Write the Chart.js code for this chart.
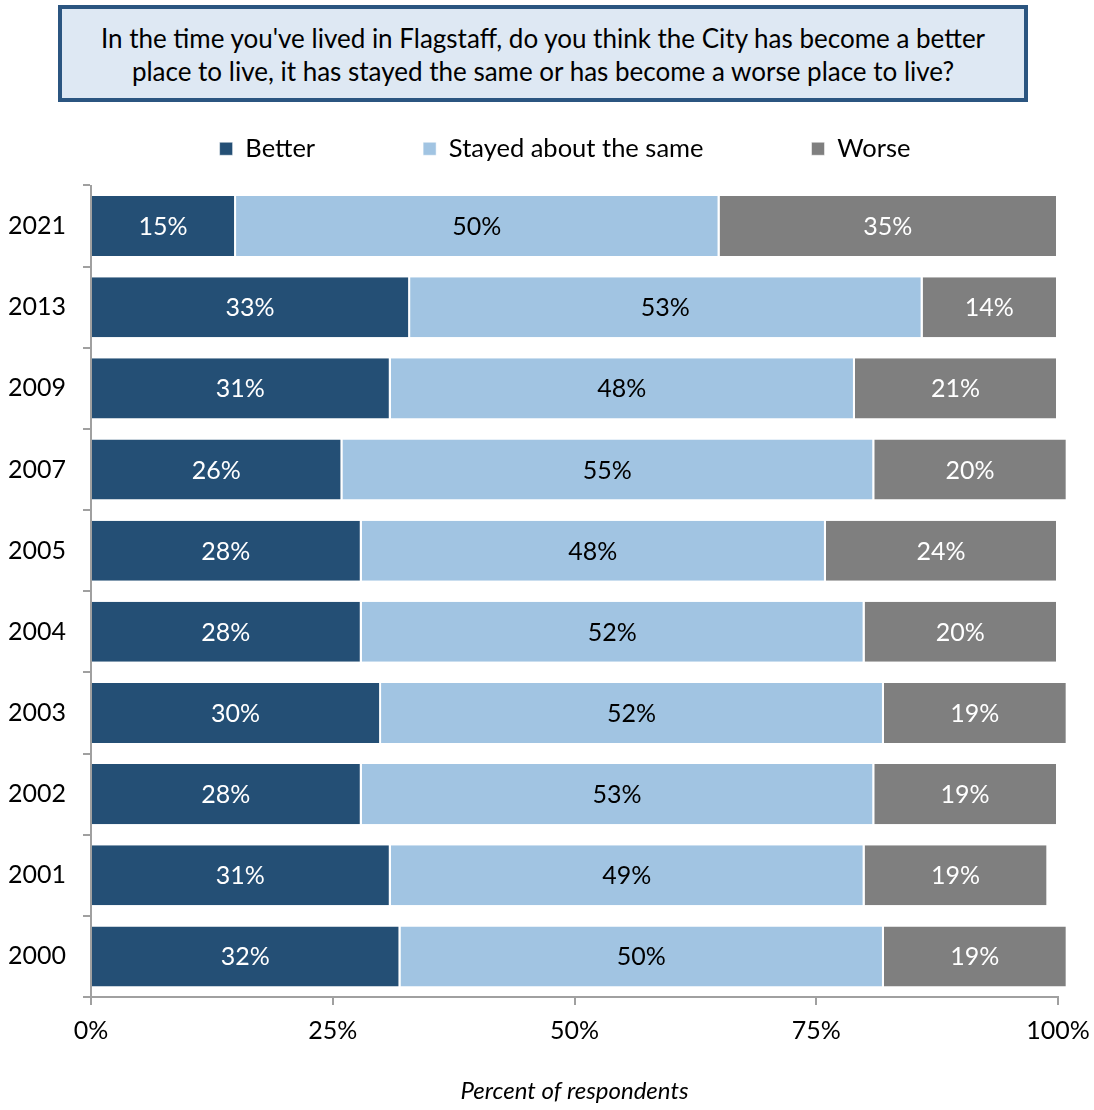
<!DOCTYPE html>
<html>
<head>
<meta charset="utf-8">
<script src="https://cdn.jsdelivr.net/npm/chart.js@4"></script>
<style>
  html, body { margin: 0; padding: 0; background: #fff; }
  #wrap { position: relative; width: 1094px; height: 1110px; }
  #q {
    position: absolute; left: 58px; top: 5px; width: 962px; height: 89px;
    border: 4px solid #2B5580; background: #DEE8F3;
    font-family: Lato, "Open Sans", sans-serif; font-size: 26px; line-height: 33px;
    color: #000; text-align: center; box-sizing: content-box;
    display: flex; align-items: center; justify-content: center;
  }
  #q span { display: block; padding-top: 2px; }
  canvas { position: absolute; left: 0; top: 0; }
</style>
</head>
<body>
<div id="wrap">
  <canvas id="c" width="1094" height="1110"></canvas>
  <div id="q"><span>In the time you've lived in Flagstaff, do you think the City has become a better<br>place to live, it has stayed the same or has become a worse place to live?</span></div>
</div>
<script>
const years = ["2021","2013","2009","2007","2005","2004","2003","2002","2001","2000"];
const better = [15,33,31,26,28,28,30,28,31,32];
const same   = [50,53,48,55,48,52,52,53,49,50];
const worse  = [35,14,21,20,24,20,19,19,19,19];
const seriesNames = ["Better","Stayed about the same","Worse"];
const xTicks = [0,25,50,75,100];
const axisTitle = "Percent of respondents";

const FONT = 'Lato, "Open Sans", sans-serif';
const colors = ["#244F75", "#A1C4E2", "#7F7F7F"];
const labelColors = ["#FFFFFF", "#000000", "#FFFFFF"];

const valueLabels = {
  id: 'valueLabels',
  afterDatasetsDraw(chart) {
    const ctx = chart.ctx;
    ctx.save();
    ctx.font = '25px ' + FONT;
    ctx.textAlign = 'center';
    ctx.textBaseline = 'middle';
    chart.data.datasets.forEach((ds, i) => {
      const meta = chart.getDatasetMeta(i);
      meta.data.forEach((bar, j) => {
        const p = bar.getCenterPoint();
        ctx.fillStyle = labelColors[i];
        ctx.fillText(ds.data[j] + '%', p.x - 1, p.y + 1);
      });
    });
    ctx.restore();
  }
};

const legendPlace = {
  id: 'legendPlace',
  afterLayout(chart) {
    const lg = chart.legend;
    if (!lg) return;
    const pad = lg.options.labels.padding;
    const center = 565;
    const w = lg.right - lg.left;
    lg.left = center - w / 2;
    lg.right = center + w / 2;
    const h = lg.bottom - lg.top;
    lg.top = 136 - pad;
    lg.bottom = lg.top + h;
  }
};

new Chart(document.getElementById('c'), {
  type: 'bar',
  data: {
    labels: years,
    datasets: [better, same, worse].map((d, i) => ({
      label: seriesNames[i],
      data: d,
      backgroundColor: colors[i],
      borderColor: '#FFFFFF',
      borderWidth: {left: 0, top: 0, bottom: 0, right: 2},
      borderSkipped: false,
      barPercentage: 0.74,
      categoryPercentage: 1.0,
      clip: false
    }))
  },
  options: {
    indexAxis: 'y',
    responsive: false,
    animation: false,
    devicePixelRatio: 1,
    layout: { padding: { top: 42, left: 6, right: 36, bottom: 4 } },
    plugins: {
      legend: {
        display: true,
        position: 'top',
        align: 'center',
        labels: {
          boxWidth: 13, boxHeight: 13,
          padding: 108,
          color: '#000',
          font: { family: FONT, size: 25.5 }
        }
      },
      tooltip: { enabled: false },
      title: { display: false }
    },
    scales: {
      x: {
        stacked: true,
        min: 0, max: 100,
        afterBuildTicks(scale) { scale.ticks = xTicks.map(v => ({value: v})); },
        ticks: {
          callback: v => v + '%',
          color: '#000',
          font: { family: FONT, size: 25 },
          padding: 11,
          maxRotation: 0
        },
        grid: { drawOnChartArea: false, drawTicks: true, tickLength: 8, color: '#A0A0A0', lineWidth: 2 },
        border: { display: true, color: '#A0A0A0', width: 2 },
        title: {
          display: true, text: axisTitle, color: '#000',
          font: { family: FONT, size: 24, style: 'italic' },
          padding: { top: 32, bottom: 0 }
        },
        afterFit(s) { s.height = 109; s.paddingRight = 0; s.paddingLeft = 0; }
      },
      y: {
        stacked: true,
        ticks: {
          color: '#000',
          font: { family: FONT, size: 25 },
          padding: 17
        },
        grid: { offset: true, drawOnChartArea: false, drawTicks: true, tickLength: 8, color: '#A0A0A0', lineWidth: 2 },
        border: { display: true, color: '#A0A0A0', width: 2 },
        afterFit(s) { s.width = 85; }
      }
    }
  },
  plugins: [valueLabels, legendPlace]
});
</script>
</body>
</html>
